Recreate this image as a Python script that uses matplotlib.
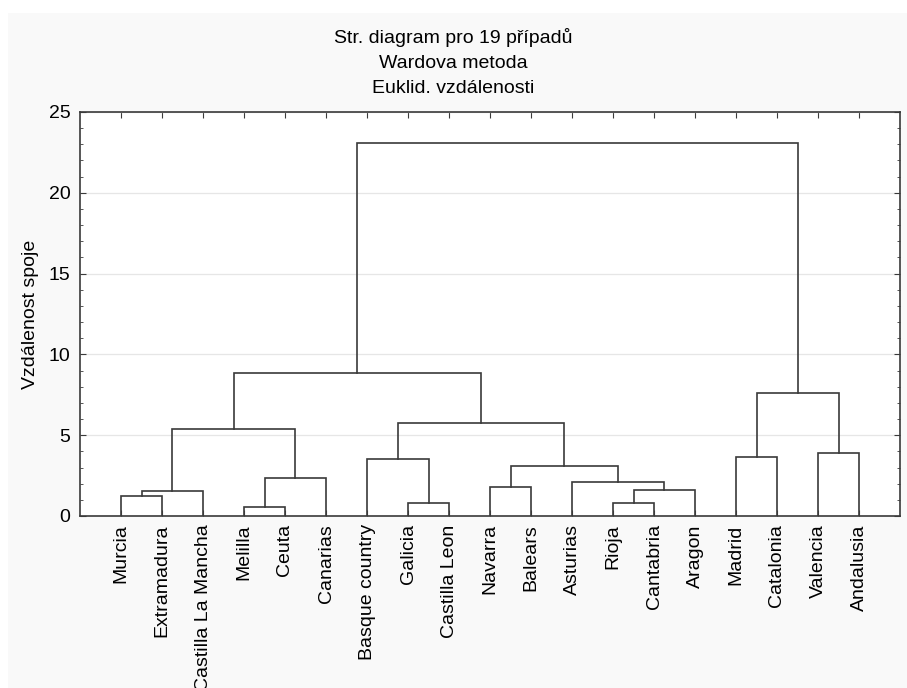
import matplotlib
matplotlib.use('Agg')
import matplotlib.pyplot as plt
from matplotlib.patches import Rectangle
from matplotlib.ticker import MultipleLocator

# ---------------------------------------------------------------------------
# data
# ---------------------------------------------------------------------------
title_lines = ['Str. diagram pro 19 případů', 'Wardova metoda', 'Euklid. vzdálenosti']
y_label = 'Vzdálenost spoje'

leaves = ['Murcia', 'Extramadura', 'Castilla La Mancha', 'Melilla', 'Ceuta',
          'Canarias', 'Basque country', 'Galicia', 'Castilla Leon', 'Navarra',
          'Balears', 'Asturias', 'Rioja', 'Cantabria', 'Aragon', 'Madrid',
          'Catalonia', 'Valencia', 'Andalusia']

# linkage: node 19+k joins merge_a[k] and merge_b[k] at merge_h[k]
merge_a = [3, 7, 12, 0, 22, 21, 9, 11, 19, 25, 6, 15, 17, 23, 29, 30, 32, 35]
merge_b = [4, 8, 13, 1, 2, 14, 10, 24, 5, 26, 20, 16, 18, 27, 28, 31, 33, 34]
merge_h = [0.58, 0.78, 0.83, 1.26, 1.53, 1.63, 1.81, 2.10, 2.33, 3.07,
           3.55, 3.67, 3.92, 5.36, 5.73, 7.63, 8.83, 23.06]

LINE_C = '#3a3a3a'
BG = '#f9f9f9'
FONT = ['Liberation Sans', 'DejaVu Sans']
plt.rcParams['font.family'] = FONT

fig = plt.figure(figsize=(9.07, 6.88), dpi=100, facecolor='white')
fig.patches.append(Rectangle((8 / 907, 0), 1, 1 - 13 / 688,
                             transform=fig.transFigure, facecolor=BG,
                             edgecolor='none', zorder=-10))

ax = fig.add_axes([80 / 907, 1 - 516 / 688, 820 / 907, 404 / 688])
ax.set_facecolor('white')

# dendrogram
n = len(leaves)
node_x = {i: i + 1 for i in range(n)}
node_y = {i: 0.0 for i in range(n)}
for k, (a, b, h) in enumerate(zip(merge_a, merge_b, merge_h)):
    xa, xb = node_x[a], node_x[b]
    ax.plot([xa, xa, xb, xb], [node_y[a], h, h, node_y[b]],
            color=LINE_C, lw=1.2, solid_joinstyle='miter', zorder=3)
    node_x[n + k] = (xa + xb) / 2
    node_y[n + k] = h

ax.set_xlim(0, n + 1)
ax.set_ylim(0, 25)

# axes styling
for s in ax.spines.values():
    s.set_color(LINE_C)
    s.set_linewidth(1.2)

ax.yaxis.set_major_locator(MultipleLocator(5))
ax.yaxis.set_minor_locator(MultipleLocator(1))
ax.tick_params(axis='y', which='both', direction='in', left=True, right=True,
               color=LINE_C, labelsize=14, pad=7)
ax.tick_params(axis='y', which='major', length=4)
ax.tick_params(axis='y', which='minor', length=2.5)
ax.yaxis.grid(True, color='#e6e6e6', lw=0.9, zorder=0)
ax.set_axisbelow(True)

ax.set_xticks(range(1, n + 1))
ax.set_xticklabels(leaves, rotation=90, fontsize=14, va='top')
ax.tick_params(axis='x', direction='in', top=True, bottom=True, length=4,
               color=LINE_C, pad=6)

ax.set_ylabel(y_label, fontsize=14, labelpad=7)

for i, line in enumerate(title_lines):
    fig.text(0.5, 1 - (37.5 + 25.5 * i) / 688, line, ha='center', va='center',
             fontsize=14)

fig.savefig('out.png', dpi=100, facecolor=fig.get_facecolor())
